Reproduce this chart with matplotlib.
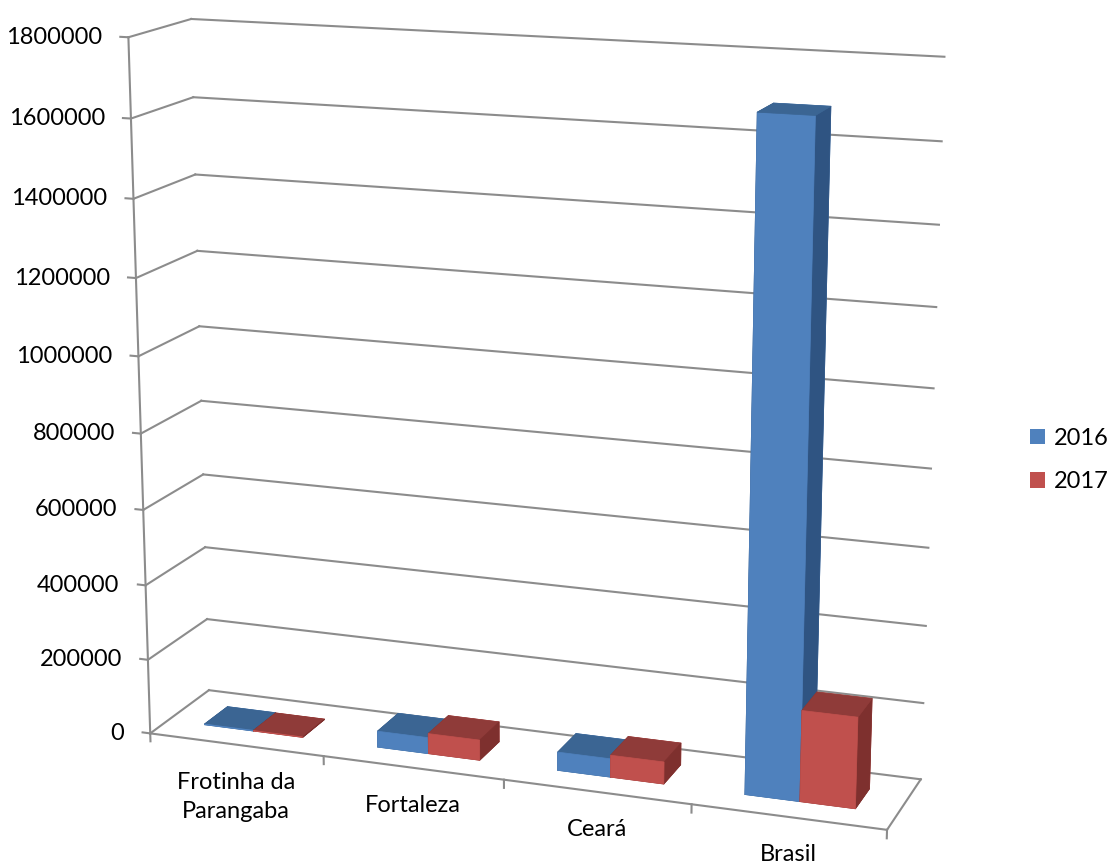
import numpy as np
import matplotlib
matplotlib.use("Agg")
import matplotlib.pyplot as plt
from matplotlib.patches import Patch
from mpl_toolkits.mplot3d import proj3d

categories = ["Frotinha da\nParangaba", "Fortaleza", "Ceará", "Brasil"]
series = ["2016", "2017"]
values_2016 = [2000, 43000, 48500, 1686000]
values_2017 = [1500, 54000, 58000, 235000]
yticks = list(range(0, 1800001, 200000))

front_colors = ["#4F81BD", "#C0504D"]
top_colors = ["#3B6593", "#8F3B39"]
side_colors = ["#2F5482", "#7E302E"]
grid_c = "#8C8C8C"

plt.rcParams["font.family"] = ["Lato", "DejaVu Sans"]
W, H = 1108, 863
fig = plt.figure(figsize=(W / 100, H / 100), dpi=100)

# excel style 3d column view: rotated ~20 deg, tilted ~15 deg, with perspective
ax = fig.add_axes([-0.0125, -0.1047, 0.9524, 1.2227], projection="3d",
                  computed_zorder=False)
ncat = len(categories)
zmax = yticks[-1]
ax.view_init(elev=14.6, azim=-70.2)
ax.set_proj_type("persp", focal_length=0.565)
ax.set_box_aspect((ncat, 0.726, 3.705))
ax.set_xlim(0, ncat)
ax.set_ylim(0, 1)
ax.set_zlim(0, zmax)
ax.set_axis_off()
fig.canvas.draw()


def to_fig(x, y, z):
    # project a 3d data point to figure fraction coords
    u, v, _ = proj3d.proj_transform(np.array([x]), np.array([y]), np.array([z]), ax.get_proj())
    px = ax.transData.transform(np.column_stack([u, v]))[0]
    return px[0] / W, px[1] / H


# walls, gridlines, axis
for z in yticks:
    ax.plot([0, ncat], [1, 1], [z, z], color=grid_c, lw=1.5, zorder=1)
    ax.plot([0, 0], [0, 1], [z, z], color=grid_c, lw=1.5, zorder=1)
    ax.plot([-0.045, 0], [0, 0], [z, z], color=grid_c, lw=1.5, zorder=1)
    fx, fy = to_fig(0, 0, z)
    fig.text(fx - 26 / W, fy, f"{z}", ha="right", va="center", fontsize=17)
ax.plot([0, 0], [0, 0], [0, zmax], color=grid_c, lw=1.5, zorder=1)
ax.plot([0, ncat], [0, 0], [0, 0], color=grid_c, lw=1.5, zorder=1)
ax.plot([ncat, ncat], [0, 1], [0, 0], color=grid_c, lw=1.5, zorder=1)
for i in range(ncat + 1):
    ax.plot([i, i], [0, 0], [0, -0.012 * zmax], color=grid_c, lw=1.5, zorder=1)

for i, cat in enumerate(categories):
    fx, fy = to_fig(i + 0.5, 0, 0)
    fig.text(fx, fy - 27 / H, cat, ha="center", va="top", fontsize=17,
             linespacing=1.5, multialignment="center")

# bars: two columns per category, sitting in the middle of the floor depth
a, w = 0.214, 0.286
yb, db = 0.3, 0.4
for i in range(ncat):
    for j, vals in enumerate([values_2016, values_2017]):
        # face order in bar3d: bottom, top, front, back, left, right
        cols = [top_colors[j], top_colors[j], front_colors[j], front_colors[j],
                side_colors[j], side_colors[j]]
        ax.bar3d(i + a + j * w, yb, 0, w, db, vals[i], color=cols, shade=False,
                 edgecolor=cols, linewidth=0.5, zorder=2 + 2 * i + j)

handles = [Patch(facecolor=c) for c in front_colors]
fig.legend(handles, series, loc="center left", bbox_to_anchor=(1030 / W, 1 - 460 / H),
           frameon=False, fontsize=17, handlelength=0.65, handleheight=0.65,
           handletextpad=0.35, labelspacing=0.95, borderpad=0, borderaxespad=0)

fig.savefig("out.png", dpi=100)
